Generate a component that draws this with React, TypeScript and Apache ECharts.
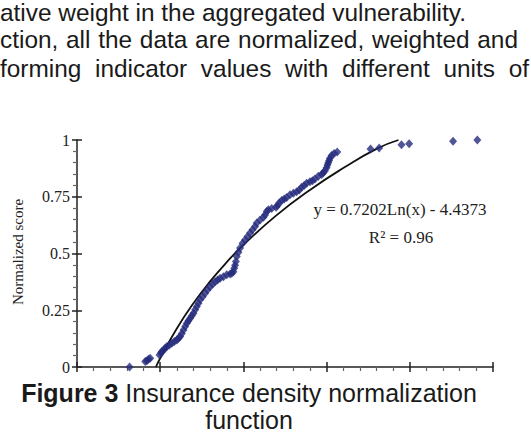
import React, { useEffect, useRef } from "react";
import * as echarts from "echarts";

// Scatter data: insurance density (x) vs normalized score (y)
const densityX = [
  316, 410, 420, 430, 440, 496, 505, 510, 520, 530, 540, 555, 570, 585, 600, 610, 620, 630, 640, 650,
  660, 670, 680, 690, 700, 710, 720, 730, 740, 755, 770, 785, 800, 815, 830, 845, 860, 880, 900, 920,
  930, 940, 945, 950, 955, 960, 970, 980, 995, 1010, 1025, 1040, 1055, 1070, 1080, 1100, 1120, 1130, 1140, 1150,
  1170, 1196, 1205, 1215, 1230, 1245, 1260, 1280, 1300, 1320, 1336, 1350, 1365, 1380, 1400, 1415, 1430, 1450, 1470, 1480,
  1490, 1500, 1505, 1510, 1515, 1520, 1530, 1545, 1564, 1764, 1816, 1950, 1996, 2260, 2406,
];
const scoreY = [
  0.0, 0.024, 0.028, 0.034, 0.038, 0.053, 0.062, 0.068, 0.075, 0.083, 0.09, 0.097, 0.105, 0.112, 0.119, 0.127, 0.134, 0.148, 0.163, 0.178,
  0.193, 0.204, 0.215, 0.226, 0.237, 0.252, 0.266, 0.281, 0.296, 0.31, 0.325, 0.34, 0.354, 0.365, 0.376, 0.383, 0.391, 0.398, 0.406, 0.41,
  0.413, 0.42, 0.435, 0.448, 0.465, 0.487, 0.505, 0.524, 0.545, 0.56, 0.575, 0.59, 0.605, 0.619, 0.634, 0.648, 0.66, 0.67, 0.685, 0.693,
  0.698, 0.704, 0.712, 0.722, 0.734, 0.74, 0.747, 0.759, 0.765, 0.772, 0.78, 0.792, 0.8, 0.81, 0.816, 0.82, 0.828, 0.84, 0.848, 0.856,
  0.865, 0.878, 0.89, 0.9, 0.91, 0.92, 0.932, 0.94, 0.947, 0.96, 0.965, 0.979, 0.984, 0.994, 1.0,
];

// Logarithmic trend line y = 0.7202 ln(x) - 4.4373
const trendX = [474, 500, 600, 700, 800, 900, 1000, 1200, 1400, 1600, 1800, 1932];
const trendY = [0, 0.0385, 0.1698, 0.2808, 0.377, 0.4618, 0.5377, 0.669, 0.78, 0.8762, 0.961, 1.0];

const yTicks = ["0", "0.25", "0.5", "0.75", "1"];
const bodyLine1 = "ative weight in the aggregated vulnerability.";
const bodyLine2Words = ["ction,", "all", "the", "data", "are", "normalized,", "weighted", "and"];
const bodyLine3Words = ["forming", "indicator", "values", "with", "different", "units", "of"];
const equationText = "y = 0.7202Ln(x) - 4.4373";
const r2Text = "R² = 0.96";
const yAxisName = "Normalized score";
const captionBold = "Figure 3";
const captionRest = " Insurance density normalization";
const captionLine2 = "function";

function justify(words: string[], font: string, start: number, end: number): number[] {
  const ctx = document.createElement("canvas").getContext("2d");
  if (!ctx) return words.map((_, i) => start + i * 60);
  ctx.font = font;
  const widths = words.map((w) => ctx.measureText(w).width);
  const total = widths.reduce((a, b) => a + b, 0);
  const gap = (end - start - total) / (words.length - 1);
  const xs: number[] = [];
  let x = start;
  for (let i = 0; i < words.length; i++) {
    xs.push(x);
    x += widths[i] + gap;
  }
  return xs;
}

export default function App() {
  const ref = useRef<HTMLDivElement>(null);
  useEffect(() => {
    document.body.style.margin = "0";
    if (!ref.current) return;
    const chart = echarts.init(ref.current, null, { renderer: "svg" });
    const serif = "'Liberation Serif', 'Times New Roman', serif";
    const sans = "'Liberation Sans', Arial, sans-serif";
    const bodySize = 24.4;
    const canvasFont = `${bodySize}px 'Liberation Sans', Arial, sans-serif`;
    const line2X = justify(bodyLine2Words, canvasFont, 0, 518);
    const line3X = justify(bodyLine3Words, canvasFont, 0, 529);
    const bodyText = { fontFamily: sans, fontSize: bodySize, fill: "#1a1a1a", verticalAlign: "middle" };
    chart.setOption({
      animation: false,
      backgroundColor: "#ffffff",
      grid: { left: 77, right: 38, top: 140, bottom: 65, containLabel: false },
      xAxis: [
        {
          type: "value", min: 0, max: 2500, interval: 500,
          axisLine: { show: true, onZero: false, lineStyle: { color: "#222", width: 1.5 } },
          axisTick: { show: true, inside: false, length: 5, lineStyle: { color: "#222", width: 1.5 } },
          minorTick: { show: true, splitNumber: 5, length: 4, lineStyle: { color: "#666", width: 1.2 } },
          axisLabel: { show: false },
          splitLine: { show: false },
        },
        {
          type: "value", min: 0, max: 2500, interval: 500, position: "bottom",
          axisLine: { show: false, onZero: false },
          axisTick: { show: true, inside: true, length: 5, lineStyle: { color: "#222", width: 1.5 } },
          axisLabel: { show: false },
          splitLine: { show: false },
        },
      ],
      yAxis: [
        {
          type: "value", min: 0, max: 1, interval: 0.25,
          axisLine: { show: true, onZero: false, lineStyle: { color: "#222", width: 1.5 } },
          axisTick: { show: true, inside: false, length: 5, lineStyle: { color: "#222", width: 1.5 } },
          minorTick: { show: true, splitNumber: 5, length: 4, lineStyle: { color: "#666", width: 1.2 } },
          axisLabel: {
            show: true, margin: 7, color: "#222", fontFamily: serif, fontSize: 16,
            formatter: (v: number) => yTicks[Math.round(v / 0.25)] ?? "",
          },
          splitLine: { show: false },
        },
        {
          type: "value", min: 0, max: 1, interval: 0.25, position: "left",
          axisLine: { show: false, onZero: false },
          axisTick: { show: true, inside: true, length: 5, lineStyle: { color: "#222", width: 1.5 } },
          axisLabel: { show: false },
          splitLine: { show: false },
        },
      ],
      series: [
        {
          type: "line",
          data: trendX.map((x, i) => [x, trendY[i]]),
          smooth: true,
          showSymbol: false,
          lineStyle: { color: "#111", width: 1.8 },
          z: 2,
        },
        {
          type: "scatter",
          data: densityX.map((x, i) => [x, scoreY[i]]),
          symbol: "diamond",
          symbolSize: [8, 9],
          itemStyle: { color: "#242a7c" },
          z: 3,
        },
      ],
      graphic: [
        { type: "text", x: 0, y: 12, style: { ...bodyText, text: bodyLine1 } },
        ...bodyLine2Words.map((w, i) => ({
          type: "text", x: line2X[i], y: 39.5, style: { ...bodyText, text: w },
        })),
        ...bodyLine3Words.map((w, i) => ({
          type: "text", x: line3X[i], y: 68, style: { ...bodyText, text: w },
        })),
        {
          type: "text", x: 18, y: 252, rotation: Math.PI / 2,
          style: { text: yAxisName, fontFamily: serif, fontSize: 15, fill: "#222", align: "center", verticalAlign: "middle" },
        },
        {
          type: "text", x: 400, y: 209,
          style: { text: equationText, fontFamily: serif, fontSize: 17, fill: "#222", align: "center", verticalAlign: "middle" },
        },
        {
          type: "text", x: 401, y: 237,
          style: { text: r2Text, fontFamily: serif, fontSize: 17, fill: "#222", align: "center", verticalAlign: "middle" },
        },
        {
          type: "text", x: 249, y: 393,
          style: {
            text: `{b|${captionBold}}${captionRest}`,
            fontFamily: sans, fontSize: 25, fill: "#1a1a1a", align: "center", verticalAlign: "middle",
            rich: { b: { fontWeight: "bold", fontFamily: sans, fontSize: 25, fill: "#1a1a1a" } },
          },
        },
        {
          type: "text", x: 249, y: 419.5,
          style: { text: captionLine2, fontFamily: sans, fontSize: 25, fill: "#1a1a1a", align: "center", verticalAlign: "middle" },
        },
      ],
    });
    return () => chart.dispose();
  }, []);
  return <div ref={ref} style={{ width: 531, height: 432 }} />;
}
